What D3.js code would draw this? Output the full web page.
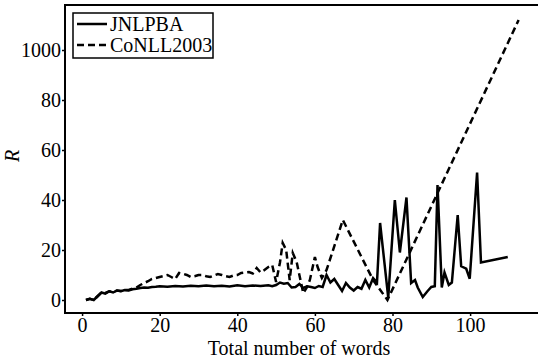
<!DOCTYPE html>
<html>
<head>
<meta charset="utf-8">
<script src="https://cdn.jsdelivr.net/npm/d3@7"></script>
<style>
  body { margin: 0; background: #fff; }
  text { font-family: "Liberation Serif", "Times New Roman", serif; }
</style>
</head>
<body>
<div id="chart"></div>
<script>
// JNLPBA (solid)
let jnlX = [1,2,3,4,5,6,7,8,9,10,11,12,13,14,15,16,17,18,19,20,22,24,26,28,30,32,34,36,38,40,42,44,46,48,49,50,51,52,53,54,55,56,57,58,59,60,61,62,63,64,65,66,67,68,69,70,71,72,73,74,75,76,76.8,78.9,80.6,81.9,83.6,84.8,85.8,86.5,87.8,89,90,90.9,91.6,92.7,93.4,94.5,95.3,96.8,97.7,99,99.9,101.8,102.8,109.7]
let jnlR = [0,0.5,0,1.5,3,2.5,3.5,3,3.8,3.5,4,3.8,4.3,4.5,4.8,5,4.9,5.2,5.3,5.5,5.3,5.6,5.4,5.7,5.5,5.8,5.5,5.7,5.4,5.9,5.5,5.8,5.6,5.9,5.5,6,7,6.5,6.8,5,5.2,6.4,4.8,5.5,5.2,4.8,5.6,5.2,10,7,8.4,6,3.6,6.8,5,3.8,5.2,4.5,8,5,8.8,7,30.8,1,40,19,41,6.8,8,5,1.2,3.5,5.2,5.5,46,5,11,6,7,34,13.5,12.5,8.5,51,15,17.2]

// CoNLL2003 (dashed)
let conX = [1,2,3,4,5,6,7,8,9,10,11,12,13,14,15,16,17,18,19,20,21,22,23,24,25,26,27,28,29,30,31,32,33,34,35,36,37,38,39,40,41,42,43,44,45,46,47,48,49,50,51,51.7,52.6,53.5,54.3,55.3,56,57,58,58.7,60,60.7,61.8,63,67.2,75,78.7,112.5]
let conR = [0,0.5,0,1.5,3,2.8,3.5,3.2,3.8,3.6,4,4,4.5,5,6,6.8,7.5,8.4,8.8,9.2,9.6,10,9.2,8.4,10.8,10.5,10,9.2,9.5,10,10,9.5,9.2,9.8,10.4,10,9.5,9.2,9.8,10,10.8,11,11.2,10.6,12.8,11,12,13.2,14,7.2,15,22.8,20,8,18.8,15.2,10,2.8,5.2,8,17.2,13.2,8.8,12,32,8,0,112]

let xTicks = [0,20,40,60,80,100]
let yTicks = [0,20,40,60,80,100]
let yTickLabels = ['0','20','40','60','80','1000']
let legendNames = ['JNLPBA','CoNLL2003']

let W = 538, H = 358
let svg = d3.select('#chart').append('svg')
  .attr('width', W).attr('height', H)

let x = d3.scaleLinear().domain([-4.4, 119.3]).range([65, 545])
let y = d3.scaleLinear().domain([-5.2, 118]).range([313, 5])

let line = d3.line().x(d => x(d[0])).y(d => y(d[1]))

svg.append('path')
  .datum(d3.zip(conX, conR))
  .attr('d', line)
  .attr('fill', 'none')
  .attr('stroke', '#000')
  .attr('stroke-width', 2.5)
  .attr('stroke-dasharray', '7,4')

svg.append('path')
  .datum(d3.zip(jnlX, jnlR))
  .attr('d', line)
  .attr('fill', 'none')
  .attr('stroke', '#000')
  .attr('stroke-width', 2.5)

// frame
svg.append('rect')
  .attr('x', 65).attr('y', 5)
  .attr('width', 480).attr('height', 308)
  .attr('fill', 'none').attr('stroke', '#000').attr('stroke-width', 2)

let xAxis = svg.append('g')
  .attr('transform', 'translate(0,313)')
  .call(d3.axisBottom(x).tickValues(xTicks).tickSize(3).tickSizeOuter(0))
let yAxis = svg.append('g')
  .attr('transform', 'translate(65,0)')
  .call(d3.axisLeft(y).tickValues(yTicks).tickSize(3).tickSizeOuter(0)
    .tickFormat((d, i) => yTickLabels[i]))

for (let ax of [xAxis, yAxis]) {
  ax.select('.domain').remove()
  ax.selectAll('line').attr('stroke', '#000').attr('stroke-width', 1.5)
  ax.selectAll('text')
    .attr('fill', '#000')
    .style('font-family', '"Liberation Serif", serif')
    .style('font-size', '20px')
}
xAxis.selectAll('text').attr('y', 5).attr('dy', '0.71em')
yAxis.selectAll('text').attr('x', -4).attr('dy', '0.34em')

svg.append('text')
  .attr('x', 299).attr('y', 355)
  .attr('text-anchor', 'middle')
  .style('font-size', '20px')
  .text('Total number of words')

svg.append('text')
  .attr('transform', 'translate(19,156) rotate(-90)')
  .attr('text-anchor', 'middle')
  .style('font-size', '20px')
  .style('font-style', 'italic')
  .text('R')

// legend
let leg = svg.append('g')
leg.append('rect')
  .attr('x', 73).attr('y', 13).attr('width', 140).attr('height', 45)
  .attr('fill', '#fff').attr('stroke', '#000').attr('stroke-width', 1.5)
legendNames.forEach((name, i) => {
  let ly = 24 + i * 21
  leg.append('line')
    .attr('x1', 77).attr('x2', 107).attr('y1', ly).attr('y2', ly)
    .attr('stroke', '#000').attr('stroke-width', 2.5)
    .attr('stroke-dasharray', i === 1 ? '7,4' : null)
  leg.append('text')
    .attr('x', 110).attr('y', ly + 7)
    .style('font-size', '20px')
    .text(name)
})
</script>
</body>
</html>
